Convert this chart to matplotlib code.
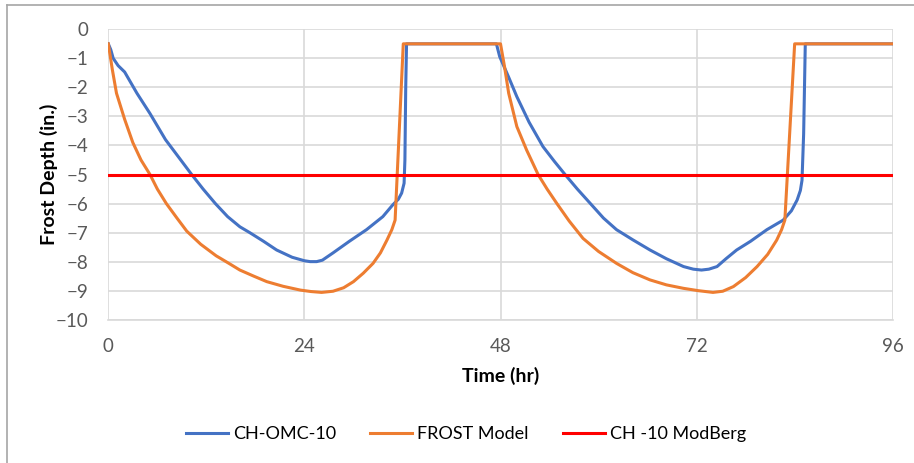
import numpy as np
import matplotlib.pyplot as plt
from matplotlib.lines import Line2D

plt.rcParams['font.family'] = ['Lato', 'DejaVu Sans']

# CH-OMC-10 (measured)
t_omc = [0, 0.3, 0.6, 1.2, 2.0, 3.5, 5.1, 7.0, 8.6, 10.2, 11.6, 13.1, 14.6, 16.1, 17.3, 19.0, 20.6, 22.5,
         24.0, 24.7, 25.5, 26.2, 27.5, 29.5, 31.6, 33.6, 34.8, 35.5, 35.9, 36.2, 36.3, 36.4, 36.5,
         47.5, 47.9, 49.0, 50.0, 51.5, 53.2, 54.6, 55.9, 57.4, 59.0, 60.6, 62.2, 64.2, 66.3, 68.3, 70.4,
         71.6, 72.6, 73.5, 74.5, 75.6, 76.9, 78.6, 80.6, 82.6, 83.6, 84.3, 84.7, 84.9, 85.1, 85.3, 96]
d_omc = [-0.5, -0.7, -1.0, -1.25, -1.47, -2.2, -2.9, -3.8, -4.4, -5.0, -5.5, -6.0, -6.45, -6.8, -7.0, -7.3, -7.6, -7.85,
         -7.97, -8.0, -8.0, -7.95, -7.7, -7.3, -6.9, -6.45, -6.05, -5.85, -5.64, -5.3, -4.5, -2.0, -0.5,
         -0.5, -0.94, -1.65, -2.32, -3.2, -4.04, -4.55, -5.0, -5.5, -6.0, -6.5, -6.9, -7.25, -7.6, -7.9, -8.17,
         -8.26, -8.29, -8.26, -8.17, -7.9, -7.6, -7.3, -6.9, -6.57, -6.25, -5.88, -5.55, -5.2, -3.6, -0.5, -0.5]

# FROST Model
t_frost = [0, 0.5, 1.0, 2.0, 3.0, 4.0, 5.1, 6.0, 7.1, 8.4, 9.6, 11.3, 13.2, 14.7, 16.1, 17.8, 19.4, 21.4, 23.5,
           24.8, 26.1, 27.5, 28.8, 30.0, 31.2, 32.4, 33.3, 34.1, 34.7, 35.1, 36.1,
           48.0, 48.5, 49.0, 50.0, 51.2, 52.6, 53.7, 54.9, 56.4, 58.1, 60.0, 62.2, 64.2, 66.3, 68.3, 70.4,
           72.2, 74.0, 75.2, 76.5, 78.0, 79.4, 80.7, 81.8, 82.4, 82.8, 84.0, 96]
d_frost = [-0.5, -1.4, -2.2, -3.1, -3.9, -4.5, -5.0, -5.5, -6.0, -6.5, -6.95, -7.4, -7.8, -8.05, -8.29, -8.5, -8.69, -8.85, -8.98,
           -9.03, -9.06, -9.02, -8.9, -8.69, -8.4, -8.06, -7.7, -7.26, -6.9, -6.57, -0.5,
           -0.5, -1.3, -2.2, -3.35, -4.16, -5.0, -5.5, -6.0, -6.6, -7.2, -7.65, -8.06, -8.38, -8.63, -8.8, -8.92,
           -9.0, -9.06, -9.02, -8.86, -8.55, -8.17, -7.75, -7.26, -6.9, -6.57, -0.5, -0.5]

# CH -10 ModBerg
t_berg = [0, 96]
d_berg = [-5, -5]

fig = plt.figure(figsize=(9.14, 4.63), dpi=100)
ax = fig.add_axes([0.1185, 0.3095, 0.8582, 0.6272])

ax.plot(t_omc, d_omc, color='#4472C4', lw=2.2, label='CH-OMC-10')
ax.plot(t_frost, d_frost, color='#ED7D31', lw=2.2, label='FROST Model')
ax.plot(t_berg, d_berg, color='#FF0000', lw=2.2, label='CH -10 ModBerg')

ax.set_xlim(0, 96)
ax.set_ylim(-10, 0)
ax.set_xticks([0, 24, 48, 72, 96])
ax.set_yticks(range(-10, 1))
ax.grid(True, color='#D9D9D9', lw=1.2)
ax.set_axisbelow(True)
for s in ['top', 'right', 'left']:
    ax.spines[s].set_visible(False)
ax.spines['bottom'].set_color('#D9D9D9')
ax.spines['bottom'].set_linewidth(1.2)
ax.tick_params(length=0, labelsize=13.5, labelcolor='#595959')
ax.tick_params(axis='x', pad=13)
ax.tick_params(axis='y', pad=14)

ax.set_xlabel('Time (hr)', fontsize=14, fontweight='bold', labelpad=9)
ax.set_ylabel('Frost Depth (in.)', fontsize=14, fontweight='bold', labelpad=-1)

fig.legend(loc='center', bbox_to_anchor=(0.51, 0.063), ncol=3, frameon=False,
           fontsize=13, handlelength=2.3, columnspacing=1.9, handletextpad=0.3)

fig.add_artist(Line2D([0.0072, 0.0072], [0, 0.989], color='#A6A6A6', lw=1.2))
fig.add_artist(Line2D([0.0072, 1.0], [0.989, 0.989], color='#A6A6A6', lw=1.2))

fig.savefig('out.png', dpi=100)
